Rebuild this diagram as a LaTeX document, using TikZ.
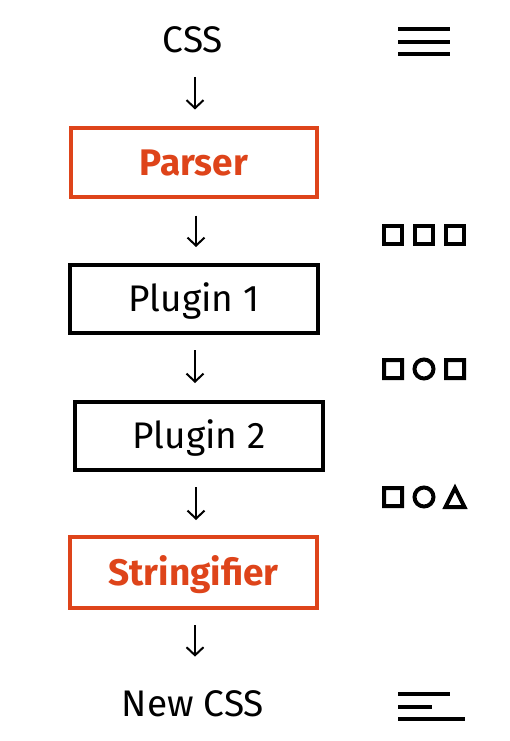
\documentclass[tikz,border=0pt]{standalone}
\usepackage{fontspec}
\setmainfont{Fira Sans}
\usetikzlibrary{arrows.meta}
\definecolor{pcorange}{RGB}{222,68,26}
\tikzset{
  stage/.style={draw=black, line width=4pt, minimum height=68pt, inner sep=0pt,
    text height=25pt, text depth=0pt, font=\fontsize{37}{44}\selectfont},
  hot/.style={stage, draw=pcorange, text=pcorange, font=\fontsize{37}{44}\selectfont\bfseries},
  label/.style={inner sep=0pt, text height=24pt, text depth=0pt, anchor=south, font=\fontsize{37}{44}\selectfont},
  arr/.style={line width=2pt, -{Straight Barb[length=8pt,width=17pt,line width=2pt]}},
  icon/.style={line width=4pt},
  iconthin/.style={line width=4pt}
}
\begin{document}
\begin{tikzpicture}[x=1pt,y=-1pt]
\useasboundingbox (0,0) rectangle (509,741);
% texts and stages
\node[label] (css) at (193,53) {CSS};
\node[hot, minimum width=246pt] (parser) at (194,162.5) {Parser};
\node[stage, minimum width=248pt] (plugin1) at (194,299) {Plugin 1};
\node[stage, minimum width=248pt] (plugin2) at (199,436) {Plugin 2};
\node[hot, minimum width=247pt, minimum height=71pt] (stringifier) at (193.5,572.5) {Stringifier};
\node[label] (newcss) at (193,717) {New CSS};
% connectors
\draw[arr, shorten <=24pt, shorten >=17pt] ([xshift=2pt]css.south) -- ([xshift=1pt]parser.north);
\draw[arr, shorten <=17pt, shorten >=16pt] ([xshift=2pt]parser.south) -- ([xshift=2pt]parser.south |- plugin1.north);
\draw[arr, shorten <=15pt, shorten >=17pt] ([xshift=1pt]plugin1.south) -- ([xshift=1pt]plugin1.south |- plugin2.north);
\draw[arr, shorten <=15pt, shorten >=15pt] ([xshift=-3pt]plugin2.south) -- ([xshift=-3pt]plugin2.south |- stringifier.north);
\draw[arr, shorten <=15pt, shorten >=36pt] ([xshift=1.5pt]stringifier.south) -- ([xshift=1.5pt]stringifier.south |- newcss.north);
% icon: source lines
\draw[icon] (398,29) -- (450,29) (398,42) -- (450,42) (398,54) -- (450,54);
% icon: row 1
\draw[iconthin] (384,226) rectangle (402,244) (415,226) rectangle (433,244) (446,226) rectangle (464,244);
% icon: row 2
\draw[iconthin] (384,360) rectangle (402,378) (424,369) circle (9.5pt) (446,360) rectangle (464,378);
% icon: row 3
\draw[iconthin] (384,488) rectangle (402,506) (424,497) circle (9.5pt);
\draw[iconthin, line join=miter] (455,488) -- (464.5,507) -- (445.5,507) -- cycle;
% icon: result lines
\draw[icon] (398,694) -- (450,694) (398,707) -- (432,707) (398,719) -- (465,719);
\end{tikzpicture}
\end{document}
